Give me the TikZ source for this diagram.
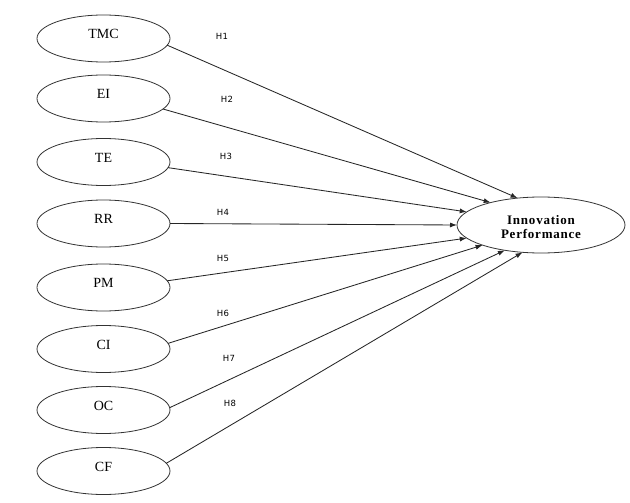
\documentclass[tikz,border=0pt]{standalone}
\usepackage{fontspec}
\setmainfont{Liberation Serif}
\newfontfamily\hfont{DejaVu Sans}
\usetikzlibrary{shapes.geometric,arrows.meta}
\begin{document}
\begin{tikzpicture}[x=1pt,y=-1pt,
  lv/.style={ellipse,draw=black!80,line width=0.8pt,minimum width=133pt,minimum height=47pt,inner sep=0pt,outer sep=0pt},
  lt/.style={font=\fontsize{14}{15}\selectfont,inner sep=0pt},
  hl/.style={font=\hfont\fontsize{8.5}{9}\selectfont\addfontfeatures{LetterSpace=4},inner sep=0pt},
  conn/.style={draw=black!85,line width=0.85pt,-{Latex[length=7pt,width=5pt]}}]
\useasboundingbox (0,0) rectangle (630,503);
% left constructs
\foreach \n/\t/\y in {tmc/TMC/38.5, ei/EI/98.5, te/TE/162, rr/RR/223.5, pm/PM/287.5, ci/CI/349, oc/OC/410, cf/CF/471}{
  \node[lv] (\n) at (103.5,\y) {};
  \node[lt] (\n t) at ([yshift=4.3pt]\n.center) {\t};
}
% target
\node[ellipse,draw=black!80,line width=0.8pt,minimum width=168pt,minimum height=56pt,inner sep=0pt,outer sep=0pt] (ip) at (541,225) {};
\node[align=center,inner sep=0pt,font=\bfseries\fontsize{13}{14}\selectfont\addfontfeatures{LetterSpace=6}] (ipt) at ([yshift=-2.5pt]ip.center) {Innovation\\Performance};
% connectors
\draw[conn] (tmc.-6) -- (ip.131.5);
\draw[conn] (ei.-10) -- (ip.156.7);
\draw[conn] (te.-5) -- (ip.170.3);
\draw[conn] (rr.0) -- (ip.180.7);
\draw[conn] (pm.6) -- (ip.190.2);
\draw[conn] (ci.5) -- (ip.199.2);
\draw[conn] (oc.2) -- (ip.215.8);
\draw[conn] (cf.7) -- (ip.236.3);
% labels
\node[hl] (h1) at (222,36) {H1};
\node[hl] (h2) at (227,99) {H2};
\node[hl] (h3) at (226,156) {H3};
\node[hl] (h4) at (223,212) {H4};
\node[hl] (h5) at (223,258) {H5};
\node[hl] (h6) at (223,313) {H6};
\node[hl] (h7) at (229,358) {H7};
\node[hl] (h8) at (230,403) {H8};
\end{tikzpicture}
\end{document}
